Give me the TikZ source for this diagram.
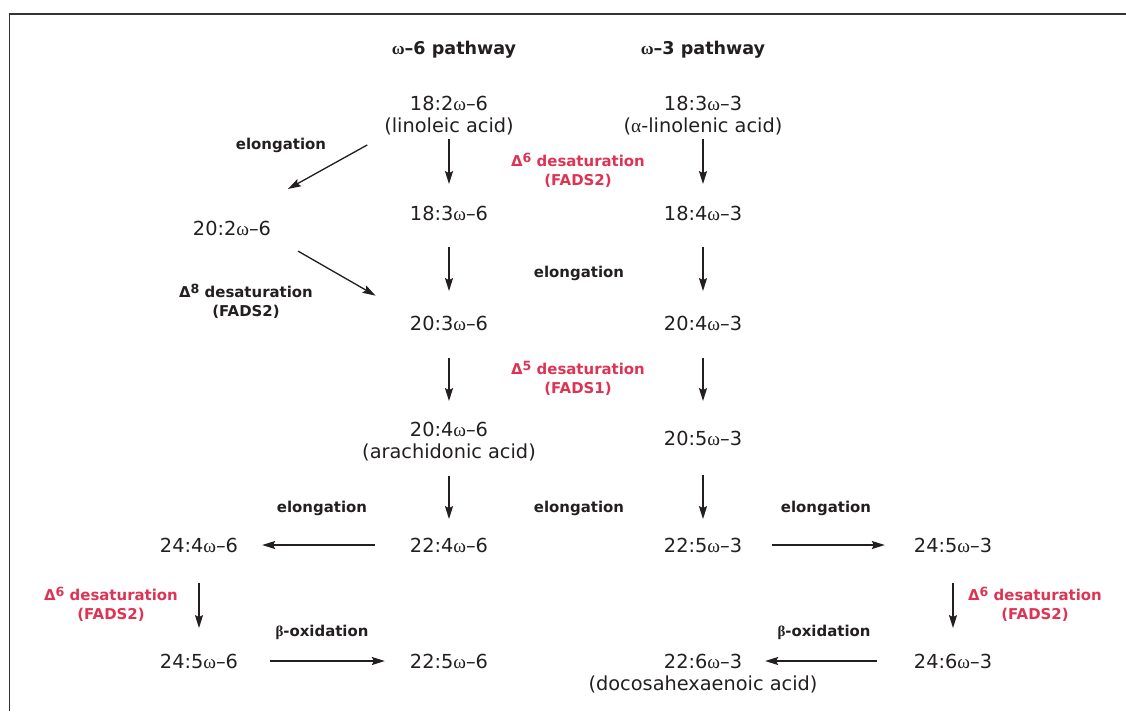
\documentclass[tikz,border=0pt]{standalone}
\usepackage{fontspec}
\setmainfont{DejaVu Sans}
\newfontfamily\grk{Liberation Serif}
\usetikzlibrary{arrows.meta,positioning}
\definecolor{ink}{RGB}{35,31,32}
\definecolor{fads}{RGB}{221,52,84}
\newcommand{\om}{{\grk ω}}
\newcommand{\upn}[1]{\raisebox{0.5ex}{\fontsize{7.2}{8}\selectfont #1}}

\begin{document}
\begin{tikzpicture}[x=0.02cm,y=-0.02cm,->,>={Stealth[length=7.4pt,width=4.6pt,inset=1.2pt]},
  line width=0.75pt,color=ink,
  spec/.style={inner sep=0pt,font=\fontsize{11}{12.5}\selectfont},
  acid/.style={spec,below=3.6pt of #1},
  lab/.style={inner sep=0pt,align=center,font=\fontsize{8.5}{10.8}\selectfont\bfseries},
  enz/.style={lab,text=fads},
  head/.style={inner sep=0pt,font=\fontsize{10}{12}\selectfont\bfseries},
  gap/.style 2 args={shorten <=#1*0.02cm,shorten >=#2*0.02cm}]

  \useasboundingbox (0,0) rectangle (1126,711);
  \draw[-,line width=0.85pt,black!80] (9.5,711) -- (9.5,14) -- (1126,14);

  % pathway heads
  \node[head] (h6) at (454,50) {\om–6 pathway};
  \node[head] (h3) at (703,50) {\om–3 pathway};

  % omega-6 side
  \node[spec] (A1) at (449,103) {18:2\om–6};
  \node[acid=A1] (A1n) {(linoleic acid)};
  \node[spec] (A2) at (449,213) {18:3\om–6};
  \node[spec] (C) at (232,228) {20:2\om–6};
  \node[spec] (A3) at (449,323) {20:3\om–6};
  \node[spec] (A4) at (449,429) {20:4\om–6};
  \node[acid=A4] (A4n) {(arachidonic acid)};
  \node[spec] (A5) at (449,545) {22:4\om–6};
  \node[spec] (L1) at (199,545) {24:4\om–6};
  \node[spec] (L2) at (199,661) {24:5\om–6};
  \node[spec] (A6) at (449,661) {22:5\om–6};

  % omega-3 side
  \node[spec] (B1) at (703,103) {18:3\om–3};
  \node[acid=B1] (B1n) {({\grk α}-linolenic acid)};
  \node[spec] (B2) at (703,213) {18:4\om–3};
  \node[spec] (B3) at (703,323) {20:4\om–3};
  \node[spec] (B4) at (703,438) {20:5\om–3};
  \node[spec] (B5) at (703,545) {22:5\om–3};
  \node[spec] (R1) at (953,545) {24:5\om–3};
  \node[spec] (R2) at (953,661) {24:6\om–3};
  \node[spec] (B6) at (703,661) {22:6\om–3};
  \node[acid=B6] (B6n) {(docosahexaenoic acid)};

  % enzyme steps
  \node[lab] (el1) at (281,145) {elongation};
  \node[lab] (d8) at (246,301) {Δ\upn{8} desaturation\\(FADS2)};
  \node[enz] (d6a) at (578,170) {Δ\upn{6} desaturation\\(FADS2)};
  \node[lab] (el2) at (579,273) {elongation};
  \node[enz] (d5) at (578,378) {Δ\upn{5} desaturation\\(FADS1)};
  \node[lab] (el3) at (322,508) {elongation};
  \node[lab] (el4) at (579,508) {elongation};
  \node[lab] (el5) at (826,508) {elongation};
  \node[enz] (d6b) at (111,604) {Δ\upn{6} desaturation\\(FADS2)};
  \node[enz] (d6c) at (1035,604) {Δ\upn{6} desaturation\\(FADS2)};
  \node[lab] (ox1) at (322,632) {{\grk β}-oxidation};
  \node[lab] (ox2) at (824,632) {{\grk β}-oxidation};

  \path
    (A1n) edge[gap={3.4}{21}] (A2)
    (A2) edge[gap={26}{24}] (A3)
    (A3) edge[gap={27}{20}] (A4)
    (A4n) edge[gap={14.4}{18}] (A5)
    (A5) edge[gap={34.5}{23.5}] (L1)
    (L1) edge[gap={30}{25}] (L2)
    (L2) edge[gap={31.5}{24.5}] (A6)
    (A1n.south west) edge[gap={18.7}{64}] (C.north)
    (C.south east) edge[gap={30.4}{38.9}] (A3.north west)
    (B1n) edge[gap={3.4}{21}] (B2)
    (B2) edge[gap={26}{24}] (B3)
    (B3) edge[gap={27}{29}] (B4)
    (B4) edge[gap={29}{18}] (B5)
    (B5) edge[gap={29.5}{28.5}] (R1)
    (R1) edge[gap={30}{25}] (R2)
    (R2) edge[gap={36.5}{22.5}] (B6);
\end{tikzpicture}
\end{document}
